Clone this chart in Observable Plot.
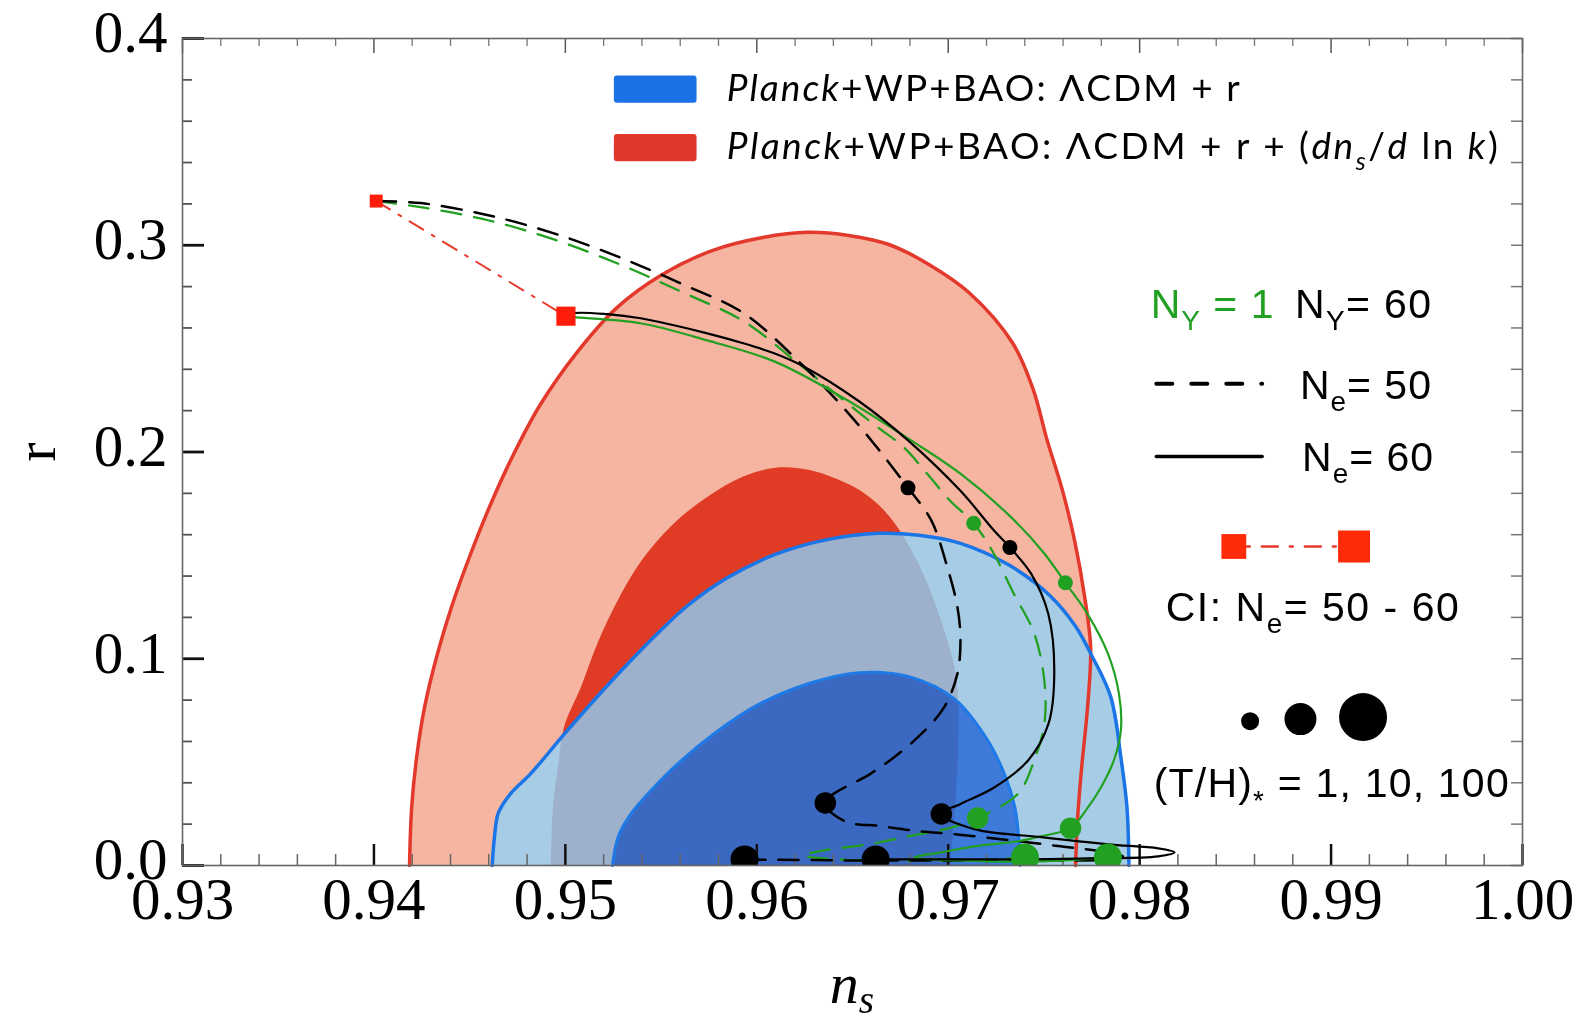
<!DOCTYPE html>
<html>
<head>
<meta charset="utf-8">
<script src="https://cdn.jsdelivr.net/npm/d3@7"></script>
<script src="https://cdn.jsdelivr.net/npm/@observablehq/plot@0.6"></script>
<style>
html, body { margin: 0; padding: 0; background: #fff; }
#chart { width: 1582px; height: 1022px; }
</style>
</head>
<body>
<div id="chart"></div>
<script>
// ---------------- DATA ----------------
const X_TICKS = [0.93, 0.94, 0.95, 0.96, 0.97, 0.98, 0.99, 1.00];
const Y_TICKS = [0.0, 0.1, 0.2, 0.3, 0.4];

// Planck+WP+BAO: LCDM + r + running (95% and 68%)  [n_s, r]
const redOuter = [
  [0.94186,0],[0.94197,0.02784],[0.94223,0.05226],[0.94265,0.07668],[0.94328,0.10110],
  [0.94407,0.12552],[0.94502,0.14994],[0.94608,0.17436],[0.94729,0.19878],[0.94871,0.22320],
  [0.95056,0.24762],[0.95267,0.26960],[0.95504,0.28571],[0.95767,0.29744],[0.96031,0.30378],
  [0.96268,0.30623],[0.96479,0.30476],[0.96690,0.30037],[0.96901,0.29060],[0.97111,0.27692],
  [0.97338,0.25250],[0.97443,0.23052],[0.97517,0.20562],[0.97596,0.18168],[0.97660,0.15726],
  [0.97712,0.13040],[0.97744,0.10549],[0.97728,0.07668],[0.97697,0.04737],[0.97676,0.02295],
  [0.97665,0]
];
const redInner = [
  [0.94924,0],[0.94935,0.02784],[0.94961,0.04737],[0.94993,0.06691],[0.95082,0.08645],
  [0.95172,0.10842],[0.95272,0.12796],[0.95398,0.14750],[0.95557,0.16459],[0.95741,0.17827],
  [0.95926,0.18803],[0.96099,0.19243],[0.96268,0.19145],[0.96416,0.18706],[0.96542,0.18120],
  [0.96663,0.17192],[0.96769,0.15873],[0.96874,0.14017],[0.96964,0.11819],[0.97032,0.09621],
  [0.97054,0.07668],[0.97048,0.04737],[0.97032,0.02295],[0.97011,0]
];
// Planck+WP+BAO: LCDM + r (95% and 68%)
const blueOuter = [
  [0.94618,0],[0.94629,0.01319],[0.94650,0.02540],[0.94713,0.03467],[0.94819,0.04444],
  [0.95003,0.06447],[0.95214,0.08645],[0.95446,0.10891],[0.95636,0.12552],[0.95846,0.13919],
  [0.96110,0.15092],[0.96374,0.15775],[0.96637,0.16068],[0.96848,0.15971],[0.97064,0.15580],
  [0.97322,0.14505],[0.97533,0.13040],[0.97665,0.11575],[0.97744,0.10256],[0.97849,0.08156],
  [0.97902,0.05226],[0.97934,0.02784],[0.97944,0]
];
const blueInner = [
  [0.95246,0],[0.95277,0.01417],[0.95346,0.02540],[0.95446,0.03614],[0.95594,0.04981],
  [0.95794,0.06495],[0.96005,0.07766],[0.96268,0.08791],[0.96532,0.09328],[0.96795,0.09133],
  [0.97032,0.08059],[0.97206,0.06056],[0.97301,0.04249],[0.97349,0.02784],[0.97370,0.01172],
  [0.97375,0]
];

// Warm-inflation tracks: N_Y = 60 (black) / N_Y = 1 (green); N_e = 50 (dashed) / 60 (solid)
const trackNe50NY60 = [
  [0.94012,0.32137],[0.94244,0.32039],[0.94597,0.31453],[0.94940,0.30574],[0.95288,0.29402],
  [0.95620,0.28083],[0.95931,0.26715],[0.96231,0.24273],[0.96426,0.22418],[0.96611,0.20415],
  [0.96790,0.18266],[0.96911,0.16703],[0.96996,0.14408],[0.97048,0.12503],[0.97064,0.10891],
  [0.97048,0.09280],[0.96980,0.07668],[0.96858,0.06349],[0.96716,0.05226],[0.96595,0.04444],
  [0.96358,0.03028],[0.96458,0.02149],[0.96648,0.01905],[0.96843,0.01661],[0.97032,0.01514],
  [0.97322,0.01221],[0.97586,0.00928],[0.97797,0.00684],[0.97913,0.00440],[0.97849,0.00293],
  [0.97586,0.00244],[0.97059,0.00244],[0.96532,0.00244],[0.95936,0.00293]
];
const trackNe60NY60 = [
  [0.95003,0.26569],[0.95045,0.26715],[0.95219,0.26667],[0.95393,0.26471],[0.95567,0.26129],
  [0.95741,0.25739],[0.95915,0.25299],[0.96094,0.24762],[0.96247,0.24127],[0.96532,0.22466],
  [0.96790,0.20562],[0.97064,0.18120],[0.97238,0.16215],[0.97322,0.15385],[0.97433,0.14115],
  [0.97523,0.12161],[0.97554,0.09280],[0.97523,0.06838],[0.97417,0.05079],[0.97238,0.03761],
  [0.97064,0.02979],[0.96964,0.02491],[0.97138,0.01758],[0.97486,0.01368],[0.97834,0.01026],
  [0.98097,0.00830],[0.98182,0.00635],[0.98097,0.00440],[0.97744,0.00342],[0.97322,0.00293],
  [0.96953,0.00293],[0.96621,0.00293]
];
const trackNe50NY1 = [
  [0.94012,0.32137],[0.94244,0.31844],[0.94597,0.31209],[0.94940,0.30281],[0.95288,0.29060],
  [0.95620,0.27692],[0.95931,0.26325],[0.96231,0.24176],[0.96426,0.22711],[0.96611,0.21343],
  [0.96769,0.20220],[0.96890,0.18950],[0.97011,0.17631],[0.97133,0.16557],[0.97238,0.15092],
  [0.97343,0.13138],[0.97449,0.11233],[0.97502,0.08938],[0.97502,0.06838],[0.97449,0.05079],
  [0.97364,0.03468],[0.97154,0.02295],[0.97006,0.01807],[0.96795,0.01416],[0.96584,0.01026],
  [0.96352,0.00733],[0.96242,0.00488],[0.96426,0.00293],[0.96795,0.00244],[0.97111,0.00244],
  [0.97401,0.00391]
];
const trackNe60NY1 = [
  [0.95003,0.26569],[0.95045,0.26520],[0.95393,0.26227],[0.95741,0.25397],[0.96094,0.24371],
  [0.96453,0.22613],[0.96806,0.20562],[0.97064,0.18950],[0.97328,0.16850],[0.97502,0.15092],
  [0.97612,0.13675],[0.97728,0.12161],[0.97834,0.10256],[0.97892,0.08303],[0.97902,0.06545],
  [0.97865,0.05079],[0.97797,0.03761],[0.97728,0.02784],[0.97639,0.01807],[0.97486,0.01416],
  [0.97364,0.01172],[0.97138,0.00928],[0.96964,0.00635],[0.96822,0.00391],[0.97059,0.00244],
  [0.97480,0.00195],[0.97834,0.00391]
];

// Markers at (T/H)* = 1, 10, 100 on each track
const thMarkers = [
  {ny: 60, ne: 50, th: 1,   ns: 0.96790, r: 0.18266},
  {ny: 60, ne: 50, th: 10,  ns: 0.96358, r: 0.03028},
  {ny: 60, ne: 50, th: 100, ns: 0.95936, r: 0.00293},
  {ny: 60, ne: 60, th: 1,   ns: 0.97322, r: 0.15385},
  {ny: 60, ne: 60, th: 10,  ns: 0.96964, r: 0.02491},
  {ny: 60, ne: 60, th: 100, ns: 0.96621, r: 0.00293},
  {ny: 1,  ne: 50, th: 1,   ns: 0.97133, r: 0.16557},
  {ny: 1,  ne: 50, th: 10,  ns: 0.97154, r: 0.02295},
  {ny: 1,  ne: 50, th: 100, ns: 0.97401, r: 0.00391},
  {ny: 1,  ne: 60, th: 1,   ns: 0.97612, r: 0.13675},
  {ny: 1,  ne: 60, th: 10,  ns: 0.97639, r: 0.01807},
  {ny: 1,  ne: 60, th: 100, ns: 0.97834, r: 0.00391}
];
// Cold-inflation (CI) end points, N_e = 50 and 60
const ciPoints = [
  {ne: 50, ns: 0.94012, r: 0.32137},
  {ne: 60, ns: 0.95003, r: 0.26569}
];

const legendContours = ["lcdm", "running"];
const legendTH = [1, 10, 100];

// ---------------- LAYOUT / STYLE ----------------
const W = 1582, H = 1022;
const mL = 182, mR = 60, mT = 38, mB = 157;
const FH = H - mT - mB, FW = W - mL - mR;
const serif = "Liberation Serif";
const sans = "Liberation Sans";
const GREEN = "#22a022";
const X_MINOR = X_TICKS.slice(0, -1).flatMap(t => [1, 2, 3, 4].map(k => +(t + k * 0.002).toFixed(3)));
const Y_MINOR = Y_TICKS.slice(0, -1).flatMap(t => [1, 2, 3, 4].map(k => +(t + k * 0.02).toFixed(3)));
const px = d => d[0], py = d => d[1];
const smooth = "catmull-rom";

// legend layout (data coordinates)
const topRows = {lcdm: {y1: 0.3687, y2: 0.3819, fill: "#1a72e6"}, running: {y1: 0.3404, y2: 0.3536, fill: "#e0392b"}};
const legX1 = 0.95256, legX2 = 0.95688;
const thLegendPos = {1: [0.98577, 0.0698, 9], 10: [0.98840, 0.0708, 16], 100: [0.99167, 0.0718, 24]};

const chart = Plot.plot({
  width: W, height: H,
  marginLeft: mL, marginRight: mR, marginTop: mT, marginBottom: mB,
  x: {domain: [0.93, 1.0], axis: null},
  y: {domain: [0, 0.4], axis: null},
  r: {type: "linear", domain: [1, 3], range: [7.5, 14]},
  marks: [
    // contours: red regions, then blue regions, then the red 68% region blended over the blue
    Plot.line(redOuter, {x: px, y: py, fill: "#f5b5a1", stroke: "none", curve: smooth}),
    Plot.line(redInner, {x: px, y: py, fill: "#ee4429", stroke: "none", curve: smooth}),
    Plot.line(blueOuter, {x: px, y: py, fill: "#a7cde6", stroke: "none", curve: smooth}),
    Plot.line(blueInner, {x: px, y: py, fill: "#3e7ada", stroke: "none", curve: smooth}),
    Plot.line(redInner, {x: px, y: py, fill: "#f0dce2", stroke: "none", mixBlendMode: "multiply", curve: smooth}),
    Plot.line(redOuter, {x: px, y: py, stroke: "#e3392c", strokeWidth: 3.5, curve: smooth}),
    Plot.line(blueOuter, {x: px, y: py, stroke: "#1b75e6", strokeWidth: 3.5, curve: smooth}),
    Plot.line(blueInner, {x: px, y: py, stroke: "#1f7ae8", strokeWidth: 3, curve: smooth}),

    // frame ticks (inward)
    Plot.tickX(X_MINOR, {x: d => d, insetTop: FH - 11, stroke: "#666", strokeWidth: 1.5}),
    Plot.tickX(X_TICKS, {x: d => d, insetTop: FH - 21, stroke: "#111", strokeWidth: 2.5}),
    Plot.tickX(X_MINOR, {x: d => d, insetBottom: FH - 8, stroke: "#777", strokeWidth: 1.3}),
    Plot.tickX(X_TICKS, {x: d => d, insetBottom: FH - 15, stroke: "#555", strokeWidth: 1.5}),
    Plot.tickY(Y_MINOR, {y: d => d, insetRight: FW - 10, stroke: "#555", strokeWidth: 1.8}),
    Plot.tickY(Y_TICKS, {y: d => d, insetRight: FW - 22, stroke: "#111", strokeWidth: 2.8}),
    Plot.tickY(Y_MINOR.concat(Y_TICKS), {y: d => d, insetLeft: FW - 11, stroke: "#777", strokeWidth: 1.5}),

    // tracks
    Plot.line(ciPoints, {x: "ns", y: "r", stroke: "#e8392b", strokeWidth: 2, strokeDasharray: "16,10,3,10"}),
    Plot.line(trackNe50NY1, {x: px, y: py, stroke: GREEN, strokeWidth: 2.3, strokeDasharray: "20,13", curve: smooth}),
    Plot.line(trackNe50NY60, {x: px, y: py, stroke: "#000", strokeWidth: 2.5, strokeDasharray: "20,13", curve: smooth}),
    Plot.line(trackNe60NY1, {x: px, y: py, stroke: GREEN, strokeWidth: 2.2, curve: smooth}),
    Plot.line(trackNe60NY60, {x: px, y: py, stroke: "#000", strokeWidth: 2.2, curve: smooth}),
    Plot.dot(thMarkers, {x: "ns", y: "r", r: d => 1 + Math.log10(d.th), fill: d => d.ny === 1 ? GREEN : "#000", stroke: "none", clip: true}),
    Plot.dot(ciPoints, {filter: d => d.ne === 50, x: "ns", y: "r", symbol: "square", r: 7.3, fill: "#ff1c0a", stroke: "none"}),
    Plot.dot(ciPoints, {filter: d => d.ne === 60, x: "ns", y: "r", symbol: "square", r: 10.8, fill: "#ff1c0a", stroke: "none"}),

    // frame & axes
    Plot.frame({stroke: "#666", strokeWidth: 1.6}),
    Plot.axisX({ticks: X_TICKS, tickSize: 0, tickPadding: 12, tickFormat: d3.format(".2f"), fontSize: 59, fontFamily: serif, label: null}),
    Plot.axisY({ticks: Y_TICKS, tickSize: 0, tickPadding: 15, tickFormat: d3.format(".1f"), fontSize: 59, fontFamily: serif, dy: -5, label: null}),
    Plot.text(["r"], {frameAnchor: "left", dx: -146, rotate: -90, textAnchor: "middle", lineAnchor: "middle", fontSize: 58, fontFamily: serif}),

    // top legend swatches
    Plot.rect(legendContours, {x1: legX1, x2: legX2, y1: k => topRows[k].y1, y2: k => topRows[k].y2, fill: k => topRows[k].fill, rx: 3}),

    // right legend symbols
    Plot.line([[0.98087, 0.2330], [0.98640, 0.2330]], {x: px, y: py, stroke: "#000", strokeWidth: 4, strokeDasharray: "16,19"}),
    Plot.line([[0.98087, 0.1978], [0.98640, 0.1978]], {x: px, y: py, stroke: "#000", strokeWidth: 3.5}),
    Plot.line([[0.98560, 0.1543], [0.99040, 0.1543]], {x: px, y: py, stroke: "#e8392b", strokeWidth: 2.5, strokeDasharray: "3,12,16,12"}),
    Plot.dot([0.98492], {x: d => d, y: 0.1543, symbol: "square", r: 14, fill: "#ff2a08", stroke: "none"}),
    Plot.dot([0.99120], {x: d => d, y: 0.1543, symbol: "square", r: 18, fill: "#ff2a08", stroke: "none"}),
    ...legendTH.map(t => Plot.dot([t], {x: d => thLegendPos[d][0], y: d => thLegendPos[d][1], r: thLegendPos[t][2], fill: "#000", stroke: "none"}))
  ]
});

document.getElementById("chart").appendChild(chart);

// -------- rich text (italics / subscripts) placed through the plot scales --------
const sx = v => chart.scale("x").apply(v);
const sy = v => chart.scale("y").apply(v);
const svg = d3.select(chart);

function rich({x, y, anchor = "start", size, family, fill = "#000", parts, length, subShift = 0.3}) {
  const t = svg.append("text")
    .attr("x", x).attr("y", y).attr("text-anchor", anchor)
    .attr("font-size", size).attr("font-family", family).attr("fill", fill);
  let shift = 0;
  for (const p of parts) {
    const s = t.append("tspan").text(p.t);
    if (p.i) s.attr("font-style", "italic");
    const target = p.sub ? subShift * size : 0;
    if (target !== shift) { s.attr("dy", target - shift); shift = target; }
    if (p.sub) s.attr("font-size", size * 0.68);
  }
  if (length) t.attr("textLength", length).attr("lengthAdjust", "spacing");
  return t;
}

// x-axis title n_s
rich({x: sx(0.965), y: 1003, anchor: "middle", size: 58, family: serif, subShift: 0.17,
      parts: [{t: "n", i: true}, {t: "s", i: true, sub: true}]});

// top legend labels
const topFont = "Lato";
rich({x: sx(0.95846), y: sy(0.3697), size: 37, family: topFont, length: 513,
      parts: [{t: "Planck", i: true}, {t: "+WP+BAO: ΛCDM + r"}]});
rich({x: sx(0.95846), y: sy(0.3414), size: 37, family: topFont, length: 771,
      parts: [{t: "Planck", i: true}, {t: "+WP+BAO: ΛCDM + r + ("}, {t: "dn", i: true}, {t: "s", i: true, sub: true},
              {t: "/"}, {t: "d", i: true}, {t: " ln "}, {t: "k", i: true}, {t: ")"}]});

// right legend labels
const R = 41;
rich({x: sx(0.98060), y: sy(0.2647), size: R, family: sans, fill: GREEN, length: 123,
      parts: [{t: "N"}, {t: "Y", sub: true}, {t: " = 1"}]});
rich({x: sx(0.98814), y: sy(0.2647), size: R, family: sans, length: 136,
      parts: [{t: "N"}, {t: "Y", sub: true}, {t: "= 60"}]});
rich({x: sx(0.98840), y: sy(0.2256), size: R, family: sans, length: 131,
      parts: [{t: "N"}, {t: "e", sub: true}, {t: "= 50"}]});
rich({x: sx(0.98851), y: sy(0.1905), size: R, family: sans, length: 131,
      parts: [{t: "N"}, {t: "e", sub: true}, {t: "= 60"}]});
rich({x: sx(0.98139), y: sy(0.1182), size: R, family: sans, length: 293,
      parts: [{t: "CI: N"}, {t: "e", sub: true}, {t: "= 50 - 60"}]});
rich({x: sx(0.98076), y: sy(0.0327), size: R, family: sans, length: 355,
      parts: [{t: "(T/H)"}, {t: "*", sub: true}, {t: " = 1, 10, 100"}]});
</script>
</body>
</html>
